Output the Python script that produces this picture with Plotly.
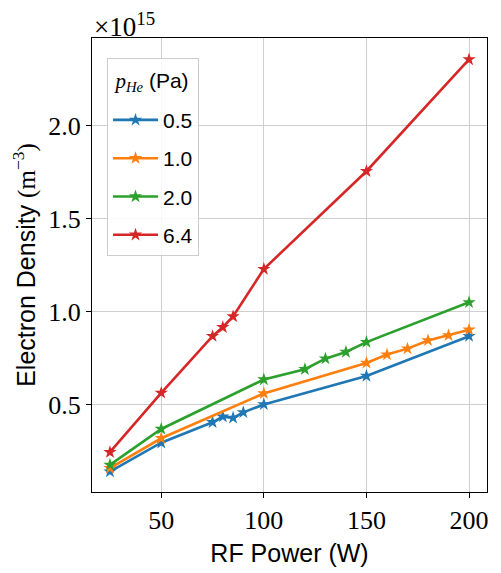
import plotly.graph_objects as go

power_05 = [25, 50, 75, 80, 85, 90, 100, 150, 200]
dens_05 = [0.139, 0.294, 0.404, 0.434, 0.428, 0.457, 0.500, 0.653, 0.867]

power_10 = [25, 50, 100, 150, 160, 170, 180, 190, 200]
dens_10 = [0.157, 0.318, 0.559, 0.723, 0.768, 0.800, 0.844, 0.871, 0.902]

power_20 = [25, 50, 100, 120, 130, 140, 150, 200]
dens_20 = [0.175, 0.368, 0.634, 0.689, 0.746, 0.782, 0.835, 1.049]

power_64 = [25, 50, 75, 80, 85, 100, 150, 200]
dens_64 = [0.243, 0.562, 0.867, 0.915, 0.973, 1.228, 1.754, 2.355]

series = [
    ("0.5", power_05, dens_05, "#1f77b4"),
    ("1.0", power_10, dens_10, "#ff7f0e"),
    ("2.0", power_20, dens_20, "#2ca02c"),
    ("6.4", power_64, dens_64, "#d62728"),
]

x_ticks = [50, 100, 150, 200]
y_ticks = [0.5, 1.0, 1.5, 2.0]
y_tick_labels = ["0.5", "1.0", "1.5", "2.0"]

serif = "Liberation Serif"
sans = "Liberation Sans"

fig = go.Figure()
for name, xs, ys, color in series:
    fig.add_trace(go.Scatter(
        x=xs, y=ys, mode="lines+markers", name=name, legendgroup=name,
        line=dict(color=color, width=2.6),
        marker=dict(symbol="star", size=10, color=color),
    ))

# page body has an 8px default margin, so the figure is sized to fit the window
fig.update_layout(
    width=493, height=565,
    margin=dict(l=84, r=14, t=30, b=81, autoexpand=False),
    plot_bgcolor="white", paper_bgcolor="white",
    showlegend=True,
    legend=dict(
        x=0.038, y=0.955, xanchor="left", yanchor="top",
        bgcolor="rgba(255,255,255,0.85)", bordercolor="#cccccc", borderwidth=1,
        font=dict(family=sans, size=21, color="black"),
        title=dict(text="<span style=\"font-size:21px;baseline-shift:12px\"><span style=\"font-family:Liberation Serif\"><i>p<sub>He</sub></i></span> (Pa)</span>",
                   font=dict(family=sans, size=31, color="black"), side="top center"),
        itemwidth=45, tracegroupgap=8, traceorder="grouped",
    ),
    xaxis=dict(
        range=[16.25, 208.75], tickvals=x_ticks, automargin=False,
        showgrid=True, gridcolor="#cfcfcf", gridwidth=1.3,
        showline=True, linecolor="black", linewidth=1.2, mirror=True,
        ticks="outside", ticklen=5, tickcolor="black",
        tickfont=dict(family=serif, size=26, color="black"),
        zeroline=False,
        title=dict(text="RF Power (W)", font=dict(family=sans, size=25, color="black"), standoff=10),
    ),
    yaxis=dict(
        range=[0.029, 2.4705], tickvals=y_ticks, ticktext=y_tick_labels, automargin=False,
        showgrid=True, gridcolor="#cfcfcf", gridwidth=1.3,
        showline=True, linecolor="black", linewidth=1.2, mirror=True,
        ticks="outside", ticklen=5, tickcolor="black",
        tickfont=dict(family=serif, size=26, color="black"),
        zeroline=False,
        title=dict(text="Electron Density <span style=\"font-family:Liberation Serif\">(m<sup>−3</sup>)</span>",
                   font=dict(family=sans, size=25, color="black"), standoff=8),
    ),
    annotations=[dict(
        text="×10<sup>15</sup>", xref="paper", yref="paper", x=0.0, y=1.0,
        xanchor="left", yanchor="bottom", showarrow=False, yshift=-6,
        font=dict(family=serif, size=27, color="black"),
    )],
)

fig.write_html("out.html")
